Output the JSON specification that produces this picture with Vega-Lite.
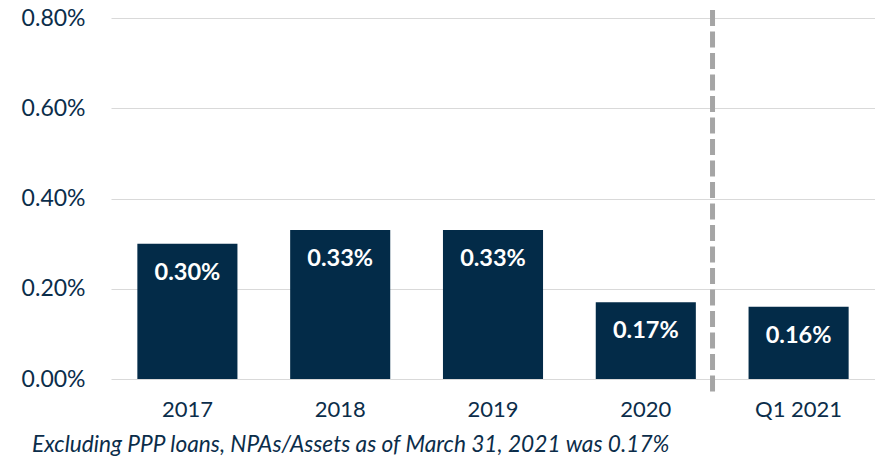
{
  "$schema": "https://vega.github.io/schema/vega-lite/v6.json",
  "width": 764,
  "height": 361,
  "autosize": {"type": "none"},
  "padding": {"left": 111, "top": 18, "right": 0, "bottom": 83},
  "background": "white",
  "config": {"view": {"stroke": null}, "font": "Lato"},
  "title": {
    "text": "Excluding PPP loans, NPAs/Assets as of March 31, 2021 was 0.17%",
    "orient": "bottom",
    "anchor": "start",
    "frame": "bounds",
    "font": "Lato",
    "fontSize": 22.7,
    "fontStyle": "italic",
    "fontWeight": "normal",
    "color": "#0B2D4A",
    "offset": 14,
    "dx": 11
  },
  "data": {
    "values": [
      {"period": "2017", "value": 0.30},
      {"period": "2018", "value": 0.33},
      {"period": "2019", "value": 0.33},
      {"period": "2020", "value": 0.17},
      {"period": "Q1 2021", "value": 0.16}
    ]
  },
  "encoding": {
    "x": {
      "field": "period",
      "type": "nominal",
      "sort": null,
      "scale": {"paddingInner": 0.345, "paddingOuter": 0.1725},
      "axis": {
        "title": null,
        "labelAngle": 0,
        "labelFont": "Lato",
        "labelFontSize": 22,
        "labelColor": "#0B2D4A",
        "labelPadding": 20,
        "ticks": false,
        "domain": false,
        "grid": false
      }
    }
  },
  "layer": [
    {
      "mark": {"type": "bar", "color": "#032B48"},
      "encoding": {
        "y": {
          "field": "value",
          "type": "quantitative",
          "scale": {"domain": [0, 0.8]},
          "axis": {
            "title": null,
            "values": [0, 0.2, 0.4, 0.6, 0.8],
            "labelExpr": "format(datum.value, '.2f') + '%'",
            "labelFont": "Lato",
            "labelFontSize": 23,
            "labelColor": "#0B2D4A",
            "labelPadding": 26,
            "ticks": false,
            "domain": false,
            "gridColor": "#D9D9D9",
            "gridWidth": 1
          }
        }
      }
    },
    {
      "transform": [{"calculate": "format(datum.value, '.2f') + '%'", "as": "label"}],
      "mark": {"type": "text", "color": "white", "font": "Lato", "fontSize": 23.5, "fontWeight": "bold", "baseline": "middle", "dy": 29},
      "encoding": {
        "y": {"field": "value", "type": "quantitative"},
        "text": {"field": "label", "type": "nominal"}
      }
    },
    {
      "transform": [{"filter": "datum.period === 'Q1 2021'"}],
      "mark": {"type": "rule", "color": "#A5A5A5", "strokeWidth": 5, "strokeDash": [16, 5.5], "clip": false},
      "encoding": {
        "x": {"field": "period", "type": "nominal", "bandPosition": -0.36},
        "y": {"datum": 0.818, "type": "quantitative"},
        "y2": {"datum": -0.04}
      }
    }
  ]
}
